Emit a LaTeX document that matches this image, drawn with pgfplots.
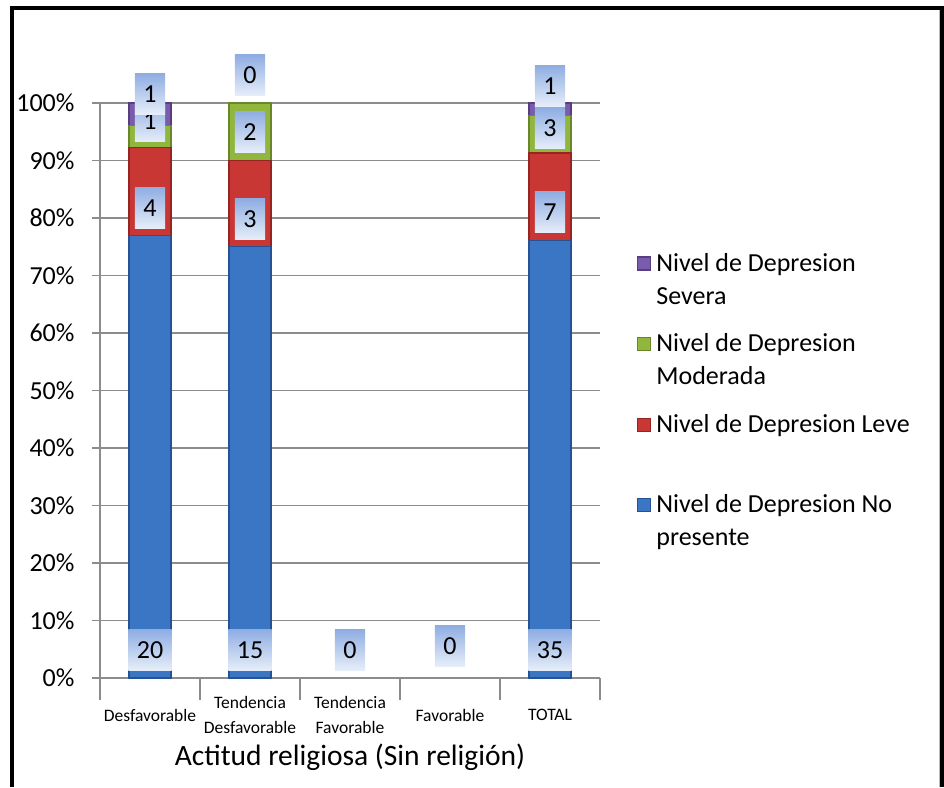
\documentclass[border=0pt]{standalone}
\usepackage{pgfplots}
\pgfplotsset{compat=1.18}
\usepackage{fontspec}
\setmainfont{Carlito}
\definecolor{blueM}{RGB}{58,118,196}
\definecolor{blueD}{RGB}{38,82,148}
\definecolor{redM}{RGB}{200,55,52}
\definecolor{redD}{RGB}{150,36,34}
\definecolor{greenM}{RGB}{145,182,62}
\definecolor{greenD}{RGB}{105,135,42}
\definecolor{purM}{RGB}{122,92,172}
\definecolor{purD}{RGB}{86,62,128}
\definecolor{labT}{RGB}{143,173,226}
\definecolor{labB}{RGB}{230,238,249}
\definecolor{gridc}{RGB}{140,140,140}
\pgfplotsset{
  lab/.style={draw=none, mark=none, nodes near coords, point meta=explicit symbolic,
    every node near coord/.style={anchor=center, top color=labT, bottom color=labB,
      text=black, font=\fontsize{26}{30}\selectfont, inner xsep=8.5pt, inner ysep=0pt,
      text height=29pt, text depth=12pt}}
}
\begin{document}
\begin{tikzpicture}[x=1pt,y=1pt]
\useasboundingbox (0,0) rectangle (944,787);
\draw[gridc!60, line width=1pt] (14,777) -- (939.5,777) -- (939.5,0);
\draw[line width=4pt] (11.5,0) -- (11.5,778.5) -- (942,778.5) -- (942,0);
\begin{axis}[
  at={(100pt,109pt)}, anchor=south west, scale only axis,
  width=500pt, height=575pt,
  ybar stacked, bar width=42pt,
  xmin=0.5, xmax=5.5, ymin=0, ymax=100,
  xtick={1,2,3,4,5},
  xticklabels={Desfavorable,{Tendencia\\Desfavorable},{Tendencia\\Favorable},Favorable,TOTAL},
  minor xtick={0.5,1.5,2.5,3.5,4.5,5.5},
  ytick={0,10,...,100},
  yticklabels={0\%,10\%,20\%,30\%,40\%,50\%,60\%,70\%,80\%,90\%,100\%},
  axis x line*=bottom, axis y line*=left,
  axis line style={gridc, line width=1.6pt},
  tick align=outside, major tick length=8pt, minor tick length=22pt,
  tick style={gridc, line width=1.6pt},
  major x tick style={draw=none},
  ymajorgrids, grid style={gridc, line width=1.6pt},
  yticklabel style={font=\fontsize{26}{30}\selectfont, xshift=-14pt},
  xticklabel style={font=\fontsize{17.5}{25}\selectfont, align=center, anchor=center, yshift=-29pt},
  xlabel={Actitud religiosa (Sin religión)},
  xlabel style={font=\fontsize{29.5}{34}\selectfont, at={(axis description cs:0.5,0)}, anchor=center, yshift=-79pt},
  legend image code/.code={\draw[#1] (0pt,9.5pt) rectangle (13pt,22.5pt);},
  reverse legend,
  legend style={at={(1.068,0.746)}, anchor=north west, draw=none, fill=none,
    font=\fontsize{26}{33}\selectfont, row sep=24pt,
    cells={anchor=base west, align=left},
    /tikz/every odd column/.append style={column sep=3pt}},
  legend cell align=left,
]
\addplot[draw=blueD, line width=1.2pt, fill=blueM]
  coordinates {(1,76.92) (2,75) (3,0) (4,0) (5,76.09)};
\addlegendentry{Nivel de Depresion No\\presente}
\addplot[draw=redD, line width=1.2pt, fill=redM]
  coordinates {(1,15.38) (2,15) (3,0) (4,0) (5,15.22)};
\addlegendentry{Nivel de Depresion Leve\\\mbox{}}
\addplot[draw=greenD, line width=1.2pt, fill=greenM]
  coordinates {(1,3.85) (2,10) (3,0) (4,0) (5,6.52)};
\addlegendentry{Nivel de Depresion\\Moderada}
\addplot[draw=purD, line width=1.2pt, fill=purM]
  coordinates {(1,3.85) (2,0) (3,0) (4,0) (5,2.17)};
\addlegendentry{Nivel de Depresion\\Severa}
\draw[gridc, line width=1.6pt] (axis cs:0.5,0) -- ++(0pt,-101pt);
\draw[gridc, line width=1.6pt] (axis cs:5.5,0) -- ++(0pt,-101pt);
\end{axis}
\begin{axis}[
  at={(100pt,109pt)}, anchor=south west, scale only axis,
  width=500pt, height=575pt,
  xmin=0.5, xmax=5.5, ymin=0, ymax=100,
  axis lines=none, clip=false,
]
\addplot[lab] coordinates {(1,4.9) [20] (2,4.9) [15] (3,4.9) [0] (4,5.6) [0] (5,4.9) [35]};
\addplot[lab] coordinates {(1,81.8) [4] (2,79.8) [3] (5,81) [7]};
\addplot[lab] coordinates {(1,96.8) [1] (2,95) [2] (5,95.6) [3]};
\addplot[lab] coordinates {(1,101.6) [1] (2,104.8) [0] (5,103) [1]};
\end{axis}
\end{tikzpicture}
\end{document}
